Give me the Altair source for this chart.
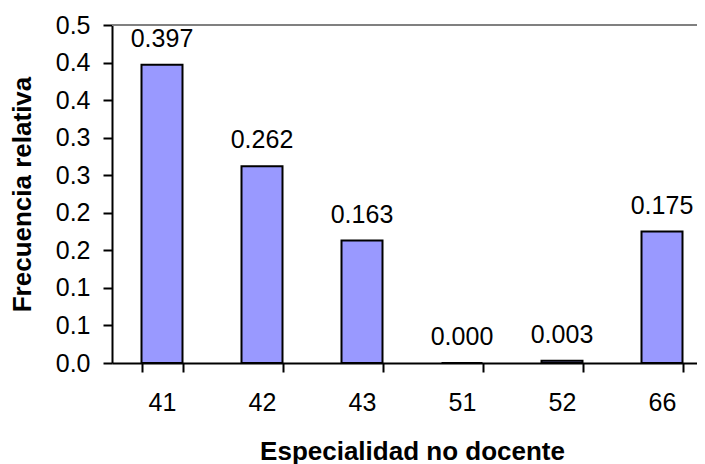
import altair as alt
import pandas as pd

categories = ["41", "42", "43", "51", "52", "66"]
values = [0.397, 0.262, 0.163, 0.000, 0.003, 0.175]
labels = ["0.397", "0.262", "0.163", "0.000", "0.003", "0.175"]
y_ticks = [0.0, 0.05, 0.10, 0.15, 0.20, 0.25, 0.30, 0.35, 0.40, 0.45]
y_max = 0.45

df = pd.DataFrame({"cat": categories, "val": values, "lab": labels})
top_df = pd.DataFrame({"val": [y_max]})

FONT = "Liberation Sans"

x_enc = alt.X(
    "cat:N",
    sort=categories,
    scale=alt.Scale(range=[0, 600], paddingInner=0.59, paddingOuter=0.295),
    axis=alt.Axis(
        title="Especialidad no docente",
        labelAngle=0,
        tickBand="extent",
        tickSize=9,
        labelPadding=18,
        titlePadding=23,
    ),
)
y_enc = alt.Y(
    "val:Q",
    scale=alt.Scale(domain=[0, y_max], nice=False),
    axis=alt.Axis(
        title="Frecuencia relativa",
        values=y_ticks,
        labelExpr="format(round(datum.value*10+0.000001)/10, '.1f')",
        labelOverlap=False,
        grid=False,
        tickSize=9,
        labelPadding=13,
        titlePadding=20,
    ),
)

base = alt.Chart(df).encode(x=x_enc, y=y_enc)

bars = base.mark_bar(color="#9999FF", stroke="black", strokeWidth=2)
text = base.mark_text(
    dy=-18, baseline="alphabetic", fontSize=25, font=FONT, color="black"
).encode(text="lab:N")

top_line = alt.Chart(top_df).mark_rule(color="#808080", strokeWidth=2).encode(
    y=y_enc,
    x=alt.value(0),
    x2=alt.value(600),
)

chart = (
    alt.layer(top_line, bars, text)
    .properties(
        width=585,
        height=338,
        autosize=alt.AutoSizeParams(type="none"),
        padding={"left": 104, "top": 17, "right": 0, "bottom": 101},
    )
    .configure_view(stroke=None)
    .configure_axis(
        domainColor="black",
        domainWidth=2,
        tickColor="black",
        tickWidth=2,
        labelColor="black",
        labelFont=FONT,
        labelFontSize=25,
        titleFont=FONT,
        titleFontSize=26,
        titleFontWeight="bold",
        titleColor="black",
    )
)

chart.save("out.html", embed_options={"renderer": "svg", "actions": False})
